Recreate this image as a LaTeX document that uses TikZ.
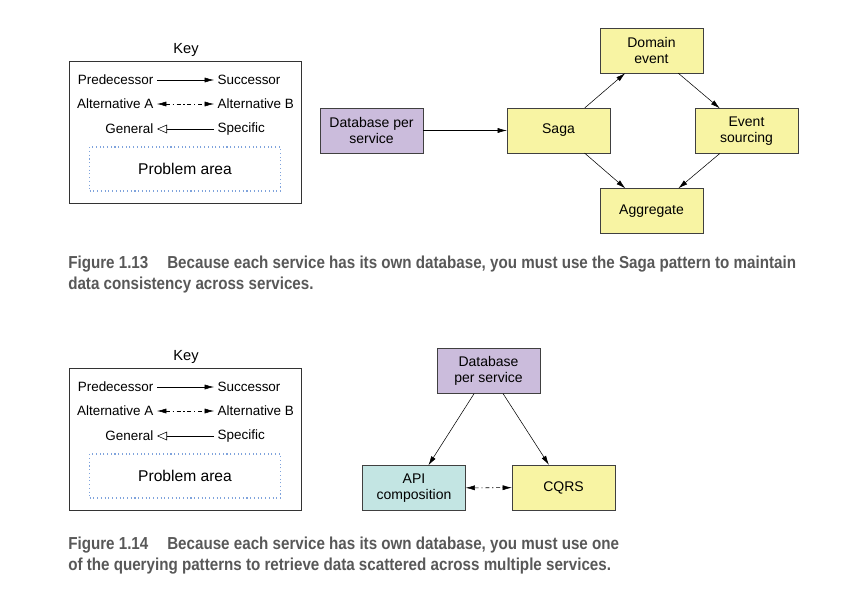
\documentclass[tikz,border=0pt]{standalone}
\usepackage{fontspec}
\setmainfont{Liberation Sans}
\usetikzlibrary{arrows.meta}

\definecolor{patyellow}{HTML}{F8F4A3}
\definecolor{patpurple}{HTML}{CBBCDC}
\definecolor{patteal}{HTML}{C3E5E3}
\definecolor{areablue}{HTML}{7FA3DC}
\definecolor{capgray}{HTML}{585858}

\newcommand{\capline}[1]{\scalebox{0.875}[1]{\bfseries #1}}

\begin{document}
\begin{tikzpicture}[x=0.75pt,y=-0.75pt,
  font=\fontsize{10.1}{12}\selectfont,
  pat/.style={draw=black!75,minimum width=77pt,minimum height=33.5pt,
    align=center,inner sep=1pt,font=\fontsize{10.5}{12.5}\selectfont},
  succ/.style={-{Latex[length=7pt,width=3.8pt]}},
  alt/.style={{Latex[length=7pt,width=3.8pt]}-{Latex[length=7pt,width=3.8pt]},
    dash pattern=on 3pt off 2pt on 1pt off 2pt},
  gen/.style={-{Triangle[open,length=7.5pt,width=6.5pt]}},
  keytxt/.style={inner sep=2.5pt},
  capt/.style={anchor=west,inner sep=0pt,text=capgray,font=\fontsize{13}{15}\selectfont}]

  \useasboundingbox (0,0) rectangle (849,589);

  % keys
  \foreach \dy/\k in {0/a,307/b}{
    \begin{scope}[shift={(0,\dy)}]
      \node (key\k) at (186,49.5) {\fontsize{11}{13}\selectfont Key};
      \draw[black!80] (69,61) rectangle (301,203);
      \node[keytxt,anchor=east] (pred\k) at (157,80) {Predecessor};
      \node[keytxt,anchor=west] (succ\k) at (214,80) {Successor};
      \node[keytxt,anchor=east] (alta\k) at (157,104) {Alternative A};
      \node[keytxt,anchor=west] (altb\k) at (214,104) {Alternative B};
      \node[keytxt,anchor=east] (gen\k) at (157,129) {General};
      \node[keytxt,anchor=west] (spec\k) at (214,129) {Specific};
      \draw[succ] (pred\k) -- (succ\k);
      \draw[alt] (alta\k) -- (altb\k);
      \draw[gen] (spec\k) -- (gen\k);
      \node[draw=areablue,dotted,thick,minimum width=143pt,minimum height=33pt,
        font=\fontsize{11.7}{13}\selectfont] (area\k) at (185,169) {Problem area};
    \end{scope}
  }

  % figure 1.13
  \node[pat,fill=patpurple] (dbps) at (371.5,130.5) {Database per\\service};
  \node[pat,fill=patyellow] (saga) at (558.5,130.5) {Saga};
  \node[pat,fill=patyellow] (domev) at (651.5,50.5) {Domain\\event};
  \node[pat,fill=patyellow] (evsrc) at (746.5,131) {Event\\sourcing};
  \node[pat,fill=patyellow] (aggr) at (651.5,211) {Aggregate};

  \draw[succ] (dbps) -- (saga);
  \draw[succ] (saga) -- (domev);
  \draw[succ] (domev) -- (evsrc);
  \draw[succ] (saga) -- (aggr);
  \draw[succ] (evsrc) -- (aggr);

  \node[capt] (cap13a) at (68,264) {\capline{Figure 1.13\hspace{1.25em}Because each service has its own database, you must use the Saga pattern to maintain}};
  \node[capt] (cap13b) at (68,285) {\capline{data consistency across services.}};

  % figure 1.14
  \node[pat,fill=patpurple] (dbps2) at (488.5,371) {Database\\per service};
  \node[pat,fill=patteal] (apic) at (414,488) {API\\composition};
  \node[pat,fill=patyellow] (cqrs) at (563.5,487.5) {CQRS};

  \draw[succ] (dbps2) -- (apic);
  \draw[succ] (dbps2) -- (cqrs);
  \draw[alt] (apic) -- (cqrs);

  \node[capt] (cap14a) at (68,545) {\capline{Figure 1.14\hspace{1.25em}Because each service has its own database, you must use one}};
  \node[capt] (cap14b) at (68,566) {\capline{of the querying patterns to retrieve data scattered across multiple services.}};
\end{tikzpicture}
\end{document}
